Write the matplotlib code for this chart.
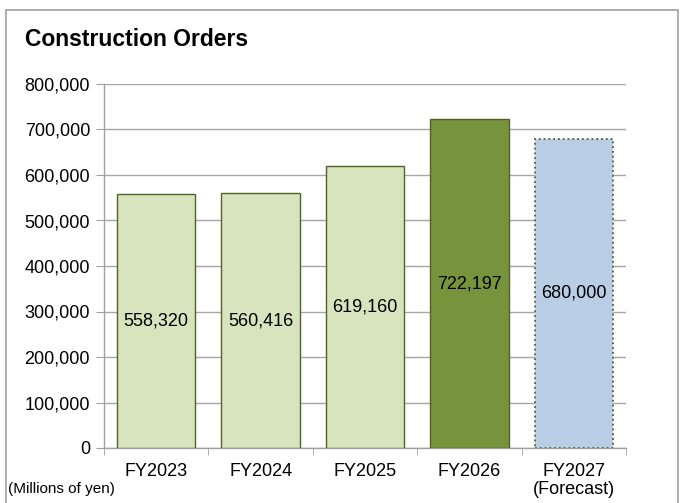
import numpy as np
import matplotlib
matplotlib.use('Agg')
import matplotlib.pyplot as plt
from matplotlib.patches import Rectangle
from matplotlib.ticker import FuncFormatter

plt.rcParams['font.family'] = ['Liberation Sans', 'DejaVu Sans']

categories = ['FY2023', 'FY2024', 'FY2025', 'FY2026', 'FY2027\n(Forecast)']
orders = [558320, 560416, 619160, 722197, 680000]
face_colors = ['#D7E4BD', '#D7E4BD', '#D7E4BD', '#77933C', '#B9CDE5']
edge_styles = ['-', '-', '-', '-', ':']

W, H = 680, 503
fig = plt.figure(figsize=(W / 100, H / 100), dpi=100)

# outer frame
fig.patches.append(Rectangle((6 / W, -0.05), 672 / W, 1.05 - 10 / H, transform=fig.transFigure,
                             fill=False, edgecolor='#A0A0A0', linewidth=1.2))

ax = fig.add_axes([104 / W, (H - 448) / H, 522 / W, 364 / H])

x = np.arange(len(categories))
for xi, val, fc, ls in zip(x, orders, face_colors, edge_styles):
    lw = 1.3 if ls == ':' else 1.0
    ax.bar(xi, val, width=0.75, color=fc, edgecolor='#4F6228', linewidth=lw, linestyle=ls, zorder=3)
    ax.text(xi, val / 2, f'{val:,}', ha='center', va='center', fontsize=13, zorder=4)

ax.set_xlim(-0.5, len(categories) - 0.5)
ax.set_ylim(0, 800000)
ax.set_yticks(np.arange(0, 800001, 100000))
ax.yaxis.set_major_formatter(FuncFormatter(lambda v, p: f'{int(v):,}'))
ax.grid(axis='y', color='#A6A6A6', linewidth=1.0, zorder=0)

ax.set_xticks(x)
ax.set_xticklabels(categories, fontsize=13, linespacing=1.05)
ax.set_xticks(np.arange(-0.5, len(categories)), minor=True)
ax.tick_params(axis='x', which='major', length=0, pad=11)
ax.tick_params(axis='x', which='minor', length=5, color='#A0A0A0')
ax.tick_params(axis='y', length=6, color='#A0A0A0', labelsize=13, pad=4)

for s in ['top', 'right']:
    ax.spines[s].set_visible(False)
for s in ['left', 'bottom']:
    ax.spines[s].set_color('#A0A0A0')
    ax.spines[s].set_linewidth(1.0)

fig.text(25 / W, 1 - 40 / H, 'Construction Orders', fontsize=16.5, fontweight='bold', va='center', ha='left')
fig.text(8 / W, 1 - 489 / H, '(Millions of yen)', fontsize=11, va='center', ha='left')

fig.savefig('out.png', dpi=100)
